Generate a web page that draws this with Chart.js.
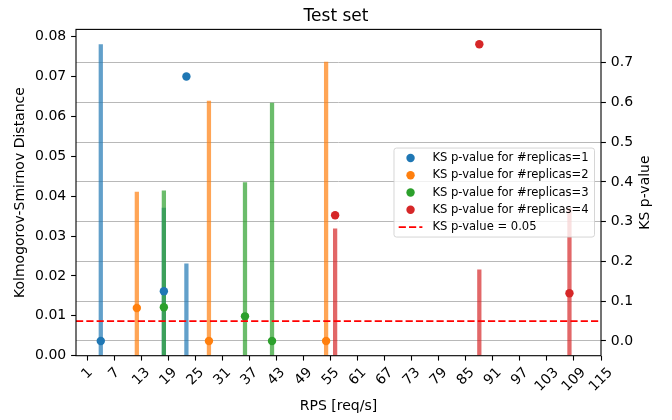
<!DOCTYPE html>
<html><head><meta charset="utf-8">
<script src="https://cdn.jsdelivr.net/npm/chart.js@4/dist/chart.umd.min.js"></script>
<style>html,body{margin:0;padding:0;background:#fff}canvas{display:block}</style>
</head><body>
<canvas id="c" width="672" height="420"></canvas>
<script>
// ---- data ----
const rps1 = [4, 18, 23];
const ksDist1 = [0.078, 0.037, 0.023];
const pValue1 = [0.0, 0.125, 0.665];

const rps2 = [12, 28, 54];
const ksDist2 = [0.041, 0.0638, 0.0736];
const pValue2 = [0.083, 0.0, 0.0];

const rps3 = [18, 36, 42];
const ksDist3 = [0.0413, 0.0434, 0.0633];
const pValue3 = [0.085, 0.062, 0.0];

const rps4 = [56, 88, 108];
const ksDist4 = [0.0318, 0.0215, 0.037];
const pValue4 = [0.316, 0.746, 0.12];

const replicaLabels = ['KS p-value for #replicas=1', 'KS p-value for #replicas=2', 'KS p-value for #replicas=3', 'KS p-value for #replicas=4'];
const thresholdLabel = 'KS p-value = 0.05';
const pThreshold = 0.05;

const xTickLabels = [1, 7, 13, 19, 25, 31, 37, 43, 49, 55, 61, 67, 73, 79, 85, 91, 97, 103, 109, 115];
const leftTicks = [0, 0.01, 0.02, 0.03, 0.04, 0.05, 0.06, 0.07, 0.08];
const rightTicks = [0, 0.1, 0.2, 0.3, 0.4, 0.5, 0.6, 0.7];

const X_MIN = -1.5, X_MAX = 115;
const Y_MIN = 0, Y_MAX = 0.0818;
const P_MIN = -0.037, P_MAX = 0.7835;

// ---- styles ----
const FONT = "'DejaVu Sans'";
const colors = ['#1f77b4', '#ff7f0e', '#2ca02c', '#d62728'];
const barColors = ['rgba(31,119,180,0.7)', 'rgba(255,127,14,0.7)', 'rgba(44,160,44,0.7)', 'rgba(214,39,40,0.7)'];

const rpsAll = [rps1, rps2, rps3, rps4];
const ksAll = [ksDist1, ksDist2, ksDist3, ksDist4];
const pAll = [pValue1, pValue2, pValue3, pValue4];

const datasets = [];
rpsAll.forEach((xs, k) => {
  datasets.push({
    type: 'bar', label: 'KS distance ' + (k + 1), xAxisID: 'x', yAxisID: 'y',
    data: xs.map((x, i) => ({x: x, y: ksAll[k][i]})),
    backgroundColor: barColors[k], borderWidth: 0, barThickness: 3.6, grouped: false,
    order: 20 - k
  });
});
rpsAll.forEach((xs, k) => {
  datasets.push({
    type: 'line', label: replicaLabels[k], xAxisID: 'x', yAxisID: 'y2', showLine: false,
    data: xs.map((x, i) => ({x: x, y: pAll[k][i]})),
    pointRadius: 4.2, pointHoverRadius: 4.2, pointBackgroundColor: colors[k], pointBorderWidth: 0,
    borderColor: colors[k], inLegend: true, legendKind: 'point',
    order: 10 - k
  });
});
datasets.push({
  type: 'line', label: thresholdLabel, xAxisID: 'x', yAxisID: 'y2',
  data: [{x: X_MIN, y: pThreshold}, {x: X_MAX, y: pThreshold}],
  borderColor: '#ff0000', borderWidth: 1.8, borderDash: [7.2, 3.1], pointRadius: 0,
  inLegend: true, legendKind: 'line', order: 1
});

const overlay = {
  id: 'overlay',
  afterDraw(chart) {
    const {ctx, chartArea: a, scales} = chart;
    ctx.save();
    // frame
    ctx.strokeStyle = '#000'; ctx.lineWidth = 1.1;
    ctx.strokeRect(a.left, a.top, a.right - a.left, a.bottom - a.top);
    // x tick labels (rotated 45, centred on tick)
    ctx.font = '14px ' + FONT; ctx.fillStyle = '#000';
    ctx.textAlign = 'center'; ctx.textBaseline = 'middle';
    const top = a.bottom + 9.7, H = 14;
    xTickLabels.forEach(v => {
      const t = String(v);
      const w = ctx.measureText(t).width;
      const x = scales.x.getPixelForValue(v);
      const y = top + (w + H) / (2 * Math.SQRT2);
      ctx.save(); ctx.translate(x, y); ctx.rotate(-Math.PI / 4); ctx.fillText(t, 0, 0); ctx.restore();
    });
    // right axis title
    ctx.save();
    ctx.translate(645, (a.top + a.bottom) / 2); ctx.rotate(-Math.PI / 2);
    ctx.fillText('KS p-value', 0, 0);
    ctx.restore();
    // legend
    const entries = chart.data.datasets.filter(d => d.inLegend);
    ctx.font = '11.57px ' + FONT;
    const textW = Math.max(...entries.map(e => ctx.measureText(e.label).width));
    const pad = 4.7, handleLen = 23.7, textPad = 10, rowH = 17.25, edgePad = 10;
    const boxW = pad + handleLen + textPad + textW + 5.9;
    const boxH = 2 * edgePad + (entries.length - 1) * rowH;
    const right = a.right - 6.5, left = right - boxW;
    const btop = (a.top + a.bottom) / 2 - boxH / 2;
    ctx.beginPath();
    if (ctx.roundRect) ctx.roundRect(left, btop, boxW, boxH, 2.5); else ctx.rect(left, btop, boxW, boxH);
    ctx.fillStyle = 'rgba(255,255,255,0.8)'; ctx.fill();
    ctx.strokeStyle = 'rgba(204,204,204,0.8)'; ctx.lineWidth = 1; ctx.stroke();
    entries.forEach((e, i) => {
      const y = btop + edgePad + i * rowH;
      const hx = left + pad;
      if (e.legendKind === 'line') {
        ctx.save();
        ctx.strokeStyle = e.borderColor; ctx.lineWidth = e.borderWidth; ctx.setLineDash(e.borderDash);
        ctx.beginPath(); ctx.moveTo(hx, y); ctx.lineTo(hx + handleLen, y); ctx.stroke();
        ctx.restore();
      } else {
        ctx.beginPath(); ctx.arc(hx + handleLen / 2, y, e.pointRadius, 0, Math.PI * 2);
        ctx.fillStyle = e.pointBackgroundColor; ctx.fill();
      }
      ctx.fillStyle = '#000'; ctx.textAlign = 'left'; ctx.textBaseline = 'middle';
      ctx.fillText(e.label, hx + handleLen + textPad, y);
    });
    ctx.restore();
  }
};

Chart.defaults.font.family = FONT;
Chart.defaults.color = '#000';

new Chart(document.getElementById('c'), {
  type: 'bar',
  data: {datasets: datasets},
  plugins: [overlay],
  options: {
    responsive: false, animation: false, devicePixelRatio: 1,
    layout: {padding: 0},
    plugins: {
      legend: {display: false},
      tooltip: {enabled: false},
      title: {display: true, text: 'Test set', color: '#000',
        font: {size: 17, weight: 'normal', family: FONT}, padding: {top: 6.5, bottom: 2.5}}
    },
    scales: {
      x: {
        type: 'linear', position: 'bottom', min: X_MIN, max: X_MAX, offset: false,
        afterBuildTicks: s => { s.ticks = xTickLabels.map(v => ({value: v})); },
        afterFit: s => { s.height = 64.3; },
        ticks: {display: false},
        grid: {drawOnChartArea: false, offset: false, drawTicks: true, tickLength: 4.9, tickColor: '#000', tickWidth: 1.1},
        border: {display: false},
        title: {display: true, text: 'RPS [req/s]', color: '#000', font: {size: 14, family: FONT}, padding: {top: 0, bottom: 5.6}}
      },
      y: {
        type: 'linear', position: 'left', min: Y_MIN, max: Y_MAX,
        afterBuildTicks: s => { s.ticks = leftTicks.map(v => ({value: v})); },
        afterFit: s => { s.width = 76; },
        ticks: {callback: v => Number(v).toFixed(2), font: {size: 14, family: FONT}, color: '#000', padding: 4.9},
        grid: {drawOnChartArea: false, drawTicks: true, tickLength: 4.9, tickColor: '#000', tickWidth: 1.1},
        border: {display: false},
        title: {display: true, text: 'Kolmogorov-Smirnov Distance', color: '#000', font: {size: 14, family: FONT}, padding: {top: 11.6, bottom: 0}}
      },
      y2: {
        type: 'linear', position: 'right', min: P_MIN, max: P_MAX, z: 1,
        afterBuildTicks: s => { s.ticks = rightTicks.map(v => ({value: v})); },
        afterFit: s => { s.width = 71; },
        ticks: {callback: v => Number(v).toFixed(1), font: {size: 14, family: FONT}, color: '#000', padding: 4.9},
        grid: {drawOnChartArea: true, color: '#b8b8b8', lineWidth: 1, drawTicks: true, tickLength: 4.9, tickColor: '#000', tickWidth: 1.1},
        border: {display: false}
      }
    }
  }
});
</script>
</body></html>
